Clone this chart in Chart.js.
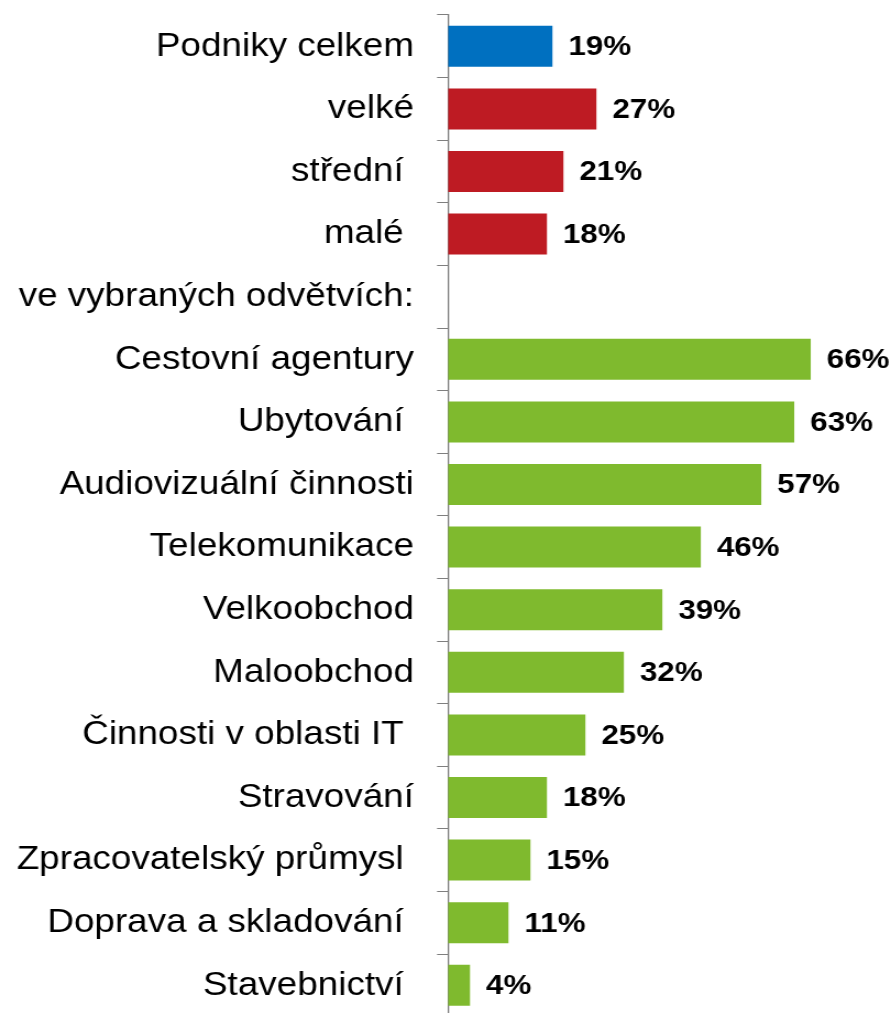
<!DOCTYPE html>
<html>
<head>
<meta charset="utf-8">
<script src="https://cdn.jsdelivr.net/npm/chart.js@4.4.1/dist/chart.umd.min.js"></script>
<style>
  html, body { margin: 0; padding: 0; background: #fff; overflow: hidden; }
  #wrap { width: 813px; height: 1020px; transform: scale(1.1, 1); transform-origin: 0 0; }
</style>
</head>
<body>
<div id="wrap"><canvas id="c" width="813" height="1020"></canvas></div>
<script>
const categories = [
  "Podniky celkem", "velké", "střední ", "malé ", "ve vybraných odvětvích:",
  "Cestovní agentury", "Ubytování ", "Audiovizuální činnosti", "Telekomunikace",
  "Velkoobchod", "Maloobchod", "Činnosti v oblasti IT ", "Stravování",
  "Zpracovatelský průmysl ", "Doprava a skladování ", "Stavebnictví "
];
const values = [19, 27, 21, 18, null, 66, 63, 57, 46, 39, 32, 25, 18, 15, 11, 4];
const groups = ["total", "size", "size", "size", "none",
  "sector", "sector", "sector", "sector", "sector", "sector", "sector", "sector", "sector", "sector", "sector"];
const groupColors = { total: "#0070C0", size: "#BE1B23", sector: "#7FBA2E", none: "#ffffff" };

const FONT = '"Liberation Sans", Arial, Helvetica, sans-serif';

const valueLabels = {
  id: 'valueLabels',
  afterDatasetsDraw(chart) {
    const ctx = chart.ctx;
    const meta = chart.getDatasetMeta(0);
    ctx.save();
    ctx.font = 'bold 28.5px ' + FONT;
    ctx.fillStyle = '#000';
    ctx.textAlign = 'left';
    ctx.textBaseline = 'middle';
    meta.data.forEach((bar, i) => {
      const v = values[i];
      if (v === null || v === undefined) return;
      ctx.fillText(v + '%', bar.x + 14.5, bar.y + 1);
    });
    ctx.restore();
  }
};

new Chart(document.getElementById('c'), {
  type: 'bar',
  data: {
    labels: categories,
    datasets: [{
      data: values,
      backgroundColor: groups.map(g => groupColors[g]),
      borderWidth: 0,
      barPercentage: 0.655,
      categoryPercentage: 1
    }]
  },
  options: {
    indexAxis: 'y',
    responsive: false,
    animation: false,
    devicePixelRatio: 1,
    layout: { padding: { top: 15, bottom: 3.4, left: 0, right: 6 } },
    plugins: { legend: { display: false }, tooltip: { enabled: false } },
    scales: {
      x: { display: false, min: 0, max: 80 },
      y: {
        offset: true,
        afterFit(scale) {
          scale.width = 407.3;
          scale.paddingTop = 0;
          scale.paddingBottom = 0;
        },
        grid: {
          offset: true,
          drawOnChartArea: false,
          drawTicks: true,
          tickLength: 10,
          color: '#7f7f7f',
          lineWidth: 1
        },
        border: { display: true, color: '#7f7f7f', width: 1.3 },
        ticks: {
          color: '#000',
          padding: 21,
          autoSkip: false,
          font: { family: FONT, size: 33.5 }
        }
      }
    }
  },
  plugins: [valueLabels]
});
</script>
</body>
</html>
